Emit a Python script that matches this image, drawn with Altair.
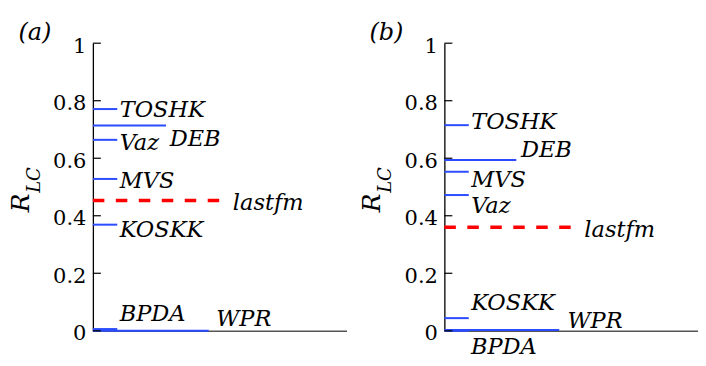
import altair as alt
import pandas as pd

# ---- panel (a) ----
methods_a = ["TOSHK", "DEB", "Vaz", "MVS", "KOSKK", "BPDA", "WPR"]
rlc_a = [0.771, 0.714, 0.664, 0.528, 0.369, 0.006, 0.0]
len_a = [1.0, 3.0, 1.0, 1.0, 1.0, 1.0, 4.75]
labx_a = [1.1, 3.15, 1.1, 1.1, 1.1, 1.1, 5.06]
laby_a = [0.768, 0.668, 0.652, 0.520, 0.349, 0.059, 0.040]
lastfm_a = 0.453
lastfm_laby_a = 0.445

# ---- panel (b) ----
methods_b = ["TOSHK", "DEB", "MVS", "Vaz", "KOSKK", "WPR", "BPDA"]
rlc_b = [0.715, 0.594, 0.553, 0.472, 0.044, 0.003, 0.0]
len_b = [1.0, 2.95, 1.0, 1.0, 1.0, 4.71, 1.0]
labx_b = [1.1, 3.14, 1.1, 1.1, 1.1, 5.05, 1.09]
laby_b = [0.727, 0.628, 0.524, 0.434, 0.096, 0.035, -0.055]
lastfm_b = 0.360
lastfm_laby_b = 0.351

lastfm_len = 5.2
lastfm_labx = 5.74
tick_values = [0, 0.2, 0.4, 0.6, 0.8, 1]
panel_names = ["(a)", "(b)"]

BLUE = "#2b4cff"
FONT = "DejaVu Serif"
LBL = 22.5
W, H = 254, 288

xscale = alt.Scale(domain=[0, 10.4], nice=False, zero=False)
yscale = alt.Scale(domain=[0, 1], nice=False)


def panel(name, methods, rlc, lens, labx, laby, lf, lf_laby):
    df = pd.DataFrame({"method": methods, "rlc": rlc, "x0": [0.0] * len(methods),
                       "x1": lens, "lx": labx, "ly": laby})
    lf_df = pd.DataFrame({"name": ["lastfm"], "rlc": [lf], "x0": [0.0], "x1": [lastfm_len],
                          "lx": [lastfm_labx], "ly": [lf_laby]})
    tick_df = pd.DataFrame({"v": tick_values})

    yaxis = alt.Axis(values=tick_values, format="~g", ticks=False, tickSize=0,
                     labelPadding=7, labelOffset=3, labelFont=FONT, labelFontSize=21,
                     labelColor="black", domainColor="black", domainWidth=1.3,
                     grid=False, title=None)
    xaxis = alt.Axis(ticks=False, labels=False, grid=False, title=None,
                     domainColor="#555555", domainWidth=1.6)

    base_ticks = alt.Chart(tick_df).mark_rule(color="black", strokeWidth=1.2).encode(
        y=alt.Y("v:Q", scale=yscale, axis=yaxis),
        x=alt.value(0), x2=alt.value(8))

    segs = alt.Chart(df).mark_rule(color=BLUE, strokeWidth=2).encode(
        x=alt.X("x0:Q", scale=xscale, axis=xaxis), x2="x1:Q",
        y=alt.Y("rlc:Q", scale=yscale, axis=yaxis))

    seg_labels = alt.Chart(df).mark_text(
        align="left", baseline="middle", font=FONT, fontSize=LBL,
        fontStyle="italic", color="black").encode(
        x=alt.X("lx:Q", scale=xscale, axis=xaxis),
        y=alt.Y("ly:Q", scale=yscale, axis=yaxis), text="method:N")

    lf_line = alt.Chart(lf_df).mark_rule(color="#ff0000", strokeWidth=3.5,
                                         strokeDash=[11.5, 11.5]).encode(
        x=alt.X("x0:Q", scale=xscale, axis=xaxis), x2="x1:Q",
        y=alt.Y("rlc:Q", scale=yscale, axis=yaxis))

    lf_label = alt.Chart(lf_df).mark_text(
        align="left", baseline="middle", font=FONT, fontSize=LBL,
        fontStyle="italic", color="black").encode(
        x=alt.X("lx:Q", scale=xscale, axis=xaxis),
        y=alt.Y("ly:Q", scale=yscale, axis=yaxis), text="name:N")

    title_df = pd.DataFrame({"t": [name]})
    ptitle = alt.Chart(title_df).mark_text(
        align="center", baseline="middle", font=FONT, fontSize=24,
        fontStyle="italic", color="black").encode(
        x=alt.value(-58), y=alt.value(-10), text="t:N")

    r_df = pd.DataFrame({"t": ["R"]})
    r_txt = alt.Chart(r_df).mark_text(
        align="center", baseline="middle", font=FONT, fontSize=25,
        fontStyle="italic", angle=270, color="black").encode(
        x=alt.value(-72), y=alt.value(160), text="t:N")
    lc_df = pd.DataFrame({"t": ["LC"]})
    lc_txt = alt.Chart(lc_df).mark_text(
        align="center", baseline="middle", font=FONT, fontSize=18,
        fontStyle="italic", angle=270, color="black").encode(
        x=alt.value(-58), y=alt.value(137), text="t:N")

    return alt.layer(lf_line, segs, base_ticks, seg_labels, lf_label,
                     ptitle, r_txt, lc_txt).properties(
        width=W, height=H, view=alt.ViewBackground(stroke="transparent", strokeWidth=0))


pa = panel(panel_names[0], methods_a, rlc_a, len_a, labx_a, laby_a, lastfm_a, lastfm_laby_a)
pb = panel(panel_names[1], methods_b, rlc_b, len_b, labx_b, laby_b, lastfm_b, lastfm_laby_b)

chart = alt.hconcat(pa, pb, spacing=14).properties(
    padding={"left": 1, "top": 13, "right": 0, "bottom": 0}
).configure_view(strokeWidth=0, stroke="transparent").configure(background="white")

chart.save("out.html", embed_options={"renderer": "svg", "actions": False})
